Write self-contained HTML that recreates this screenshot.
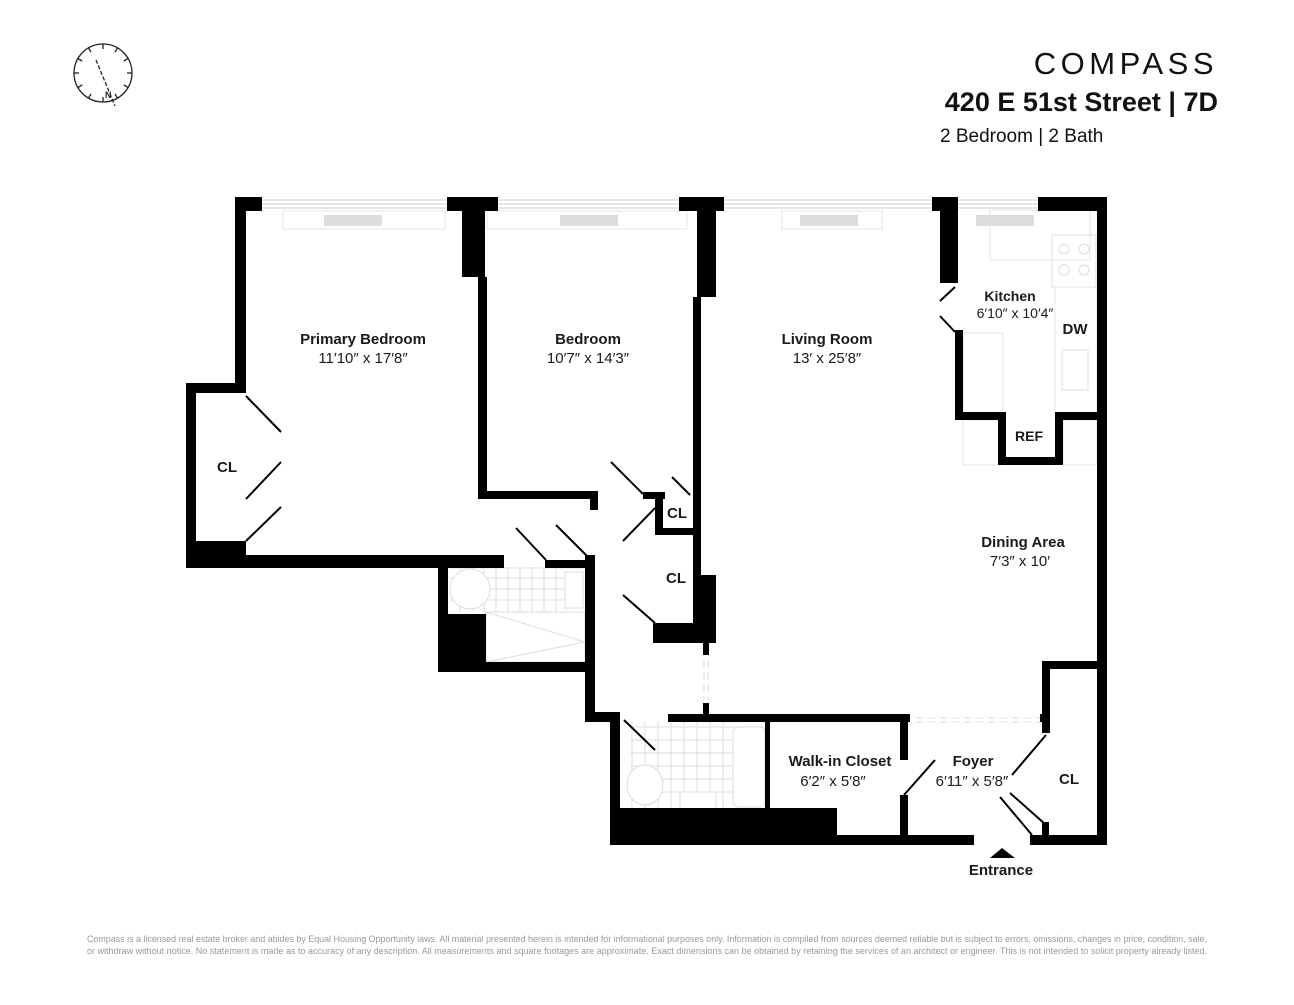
<!DOCTYPE html>
<html><head><meta charset="utf-8"><style>
html,body{margin:0;padding:0;background:#fff;}
body{width:1294px;height:1000px;overflow:hidden;font-family:"Liberation Sans",sans-serif;}
svg text{font-family:"Liberation Sans",sans-serif;}
</style></head><body>
<svg width="1294" height="1000" viewBox="0 0 1294 1000" xmlns="http://www.w3.org/2000/svg">
<g stroke="#222" stroke-width="1.3" fill="none">
<circle cx="103" cy="73" r="29"/>
<g id="t">
<line x1="103" y1="44" x2="103" y2="49"/>
</g>
<use href="#t" transform="rotate(30 103 73)"/><use href="#t" transform="rotate(60 103 73)"/><use href="#t" transform="rotate(90 103 73)"/><use href="#t" transform="rotate(120 103 73)"/><use href="#t" transform="rotate(150 103 73)"/><use href="#t" transform="rotate(180 103 73)"/><use href="#t" transform="rotate(210 103 73)"/><use href="#t" transform="rotate(240 103 73)"/><use href="#t" transform="rotate(270 103 73)"/><use href="#t" transform="rotate(300 103 73)"/><use href="#t" transform="rotate(330 103 73)"/>
<line x1="96" y1="60" x2="115" y2="106" stroke-dasharray="4 2"/>
</g>
<text x="105" y="98" font-size="9" font-weight="bold" fill="#222">N</text>

<text x="1218" y="74" font-size="31" text-anchor="end" letter-spacing="4.5" fill="#111">COMPASS</text>
<text x="1218" y="111" font-size="27" font-weight="bold" text-anchor="end" fill="#111">420 E 51st Street | 7D</text>
<text x="940" y="142" font-size="19" fill="#111">2 Bedroom | 2 Bath</text>

<g stroke="#ccc" stroke-width="1" fill="none">
<line x1="262" y1="200" x2="447" y2="200"/><line x1="262" y1="204" x2="447" y2="204"/><line x1="262" y1="208" x2="447" y2="208"/>
<line x1="498" y1="200" x2="679" y2="200"/><line x1="498" y1="204" x2="679" y2="204"/><line x1="498" y1="208" x2="679" y2="208"/>
<line x1="724" y1="200" x2="932" y2="200"/><line x1="724" y1="204" x2="932" y2="204"/><line x1="724" y1="208" x2="932" y2="208"/>
<line x1="958" y1="200" x2="1038" y2="200"/><line x1="958" y1="204" x2="1038" y2="204"/><line x1="958" y1="208" x2="1038" y2="208"/>
<rect x="283" y="211" width="162" height="18" stroke="#e6e6e6"/>
<rect x="487" y="211" width="200" height="18" stroke="#e6e6e6"/>
<rect x="782" y="211" width="100" height="18" stroke="#e6e6e6"/>
<rect x="990" y="210" width="100" height="50" stroke="#e6e6e6"/>
<rect x="1052" y="235" width="44" height="52" stroke="#ddd"/>
<circle cx="1064" cy="249" r="5" stroke="#ddd"/><circle cx="1084" cy="249" r="5" stroke="#ddd"/>
<circle cx="1064" cy="270" r="5" stroke="#ddd"/><circle cx="1084" cy="270" r="5" stroke="#ddd"/>
<rect x="1055" y="287" width="42" height="130" stroke="#e6e6e6"/>
<rect x="1062" y="350" width="26" height="40" stroke="#ddd"/>
<rect x="963" y="333" width="40" height="80" stroke="#e6e6e6"/>
<rect x="963" y="420" width="38" height="45" stroke="#e6e6e6"/>
<rect x="1063" y="420" width="34" height="45" stroke="#e6e6e6"/>
</g>
<g fill="#ddd">
<rect x="324" y="215" width="58" height="11"/>
<rect x="560" y="215" width="58" height="11"/>
<rect x="800" y="215" width="58" height="11"/>
<rect x="976" y="215" width="58" height="11"/>
</g>

<g stroke="#ddd" stroke-width="1" fill="none">
<path d="M450 568 H585 M450 578 H585 M450 589 H585 M450 600 H585"/>
<path d="M460 567 V612 M472 567 V612 M484 567 V612 M496 567 V612 M508 567 V612 M520 567 V612 M532 567 V612 M544 567 V612 M556 567 V612"/>
<ellipse cx="470" cy="589" rx="20" ry="20" fill="#fff"/>
<rect x="565" y="572" width="18" height="36" fill="#fff"/>
<rect x="486" y="612" width="99" height="50"/>
<path d="M486 612 L585 642 M486 662 L585 642"/>
<path d="M630 727 H765 M630 740 H765 M630 753 H765 M630 766 H765 M630 779 H765 M630 792 H765"/>
<path d="M632 722 V808 M645 722 V808 M658 722 V808 M671 722 V808 M684 722 V808 M697 722 V808 M710 722 V808 M723 722 V808"/>
<ellipse cx="645" cy="785" rx="18" ry="20" fill="#fff"/>
<rect x="680" y="792" width="36" height="18" fill="#fff"/>
<rect x="733" y="727" width="32" height="80" rx="6" fill="#fff"/>
<path d="M915 718 H1040 M915 722 H1040" stroke-dasharray="8 4"/>
<path d="M704 660 V700 M708 660 V700" stroke-dasharray="8 4"/>
</g>

<g fill="#000">
<rect x="235" y="197" width="27" height="14"/>
<rect x="235" y="197" width="11" height="196"/>
<rect x="447" y="197" width="51" height="14"/>
<rect x="462" y="197" width="23" height="80"/>
<rect x="679" y="197" width="45" height="14"/>
<rect x="697" y="197" width="19" height="100"/>
<rect x="932" y="197" width="26" height="14"/>
<rect x="940" y="197" width="18" height="86"/>
<rect x="1038" y="197" width="69" height="14"/>
<rect x="1097" y="197" width="10" height="648"/>
<rect x="186" y="383" width="60" height="10"/>
<rect x="186" y="383" width="10" height="185"/>
<rect x="186" y="541" width="60" height="27"/>
<rect x="186" y="555" width="318" height="13"/>
<rect x="478" y="277" width="9" height="222"/>
<rect x="478" y="491" width="120" height="8"/>
<rect x="590" y="491" width="8" height="19"/>
<rect x="430" y="560" width="73" height="8"/>
<rect x="545" y="560" width="50" height="8"/>
<rect x="438" y="560" width="10" height="112"/>
<rect x="438" y="614" width="48" height="58"/>
<rect x="438" y="662" width="157" height="10"/>
<rect x="585" y="555" width="10" height="165"/>
<rect x="585" y="712" width="35" height="10"/>
<rect x="643" y="492" width="22" height="7"/>
<rect x="655" y="492" width="8" height="43"/>
<rect x="655" y="528" width="45" height="7"/>
<rect x="693" y="297" width="8" height="330"/>
<rect x="697" y="575" width="19" height="50"/>
<rect x="653" y="623" width="63" height="20"/>
<rect x="703" y="643" width="6" height="12"/>
<rect x="703" y="703" width="6" height="15"/>
<rect x="668" y="714" width="242" height="8"/>
<rect x="1040" y="714" width="10" height="8"/>
<rect x="610" y="714" width="10" height="131"/>
<rect x="610" y="808" width="227" height="37"/>
<rect x="610" y="835" width="364" height="10"/>
<rect x="765" y="720" width="5" height="90"/>
<rect x="900" y="720" width="8" height="40"/>
<rect x="900" y="795" width="8" height="45"/>
<rect x="1042" y="661" width="8" height="72"/>
<rect x="1042" y="661" width="65" height="8"/>
<rect x="1030" y="835" width="77" height="10"/>
<rect x="1042" y="822" width="7" height="15"/>
<rect x="955" y="330" width="8" height="90"/>
<rect x="955" y="412" width="50" height="8"/>
<rect x="998" y="412" width="8" height="53"/>
<rect x="998" y="457" width="65" height="8"/>
<rect x="1055" y="412" width="8" height="53"/>
<rect x="1055" y="412" width="52" height="8"/>
<polygon points="990,858 1002,848 1015,858"/>
</g>

<g stroke="#000" stroke-width="2" fill="none">
<line x1="246" y1="396" x2="281" y2="432"/>
<line x1="246" y1="499" x2="281" y2="462"/>
<line x1="246" y1="541" x2="281" y2="507"/>
<line x1="611" y1="462" x2="643" y2="494"/>
<line x1="672" y1="477" x2="690" y2="495"/>
<line x1="516" y1="528" x2="546" y2="560"/>
<line x1="556" y1="525" x2="588" y2="557"/>
<line x1="623" y1="541" x2="655" y2="508"/>
<line x1="623" y1="595" x2="655" y2="623"/>
<line x1="940" y1="301" x2="955" y2="287"/>
<line x1="940" y1="316" x2="955" y2="332"/>
<line x1="624" y1="720" x2="655" y2="750"/>
<line x1="904" y1="795" x2="935" y2="760"/>
<line x1="1046" y1="735" x2="1012" y2="775"/>
<line x1="1000" y1="797" x2="1032" y2="835"/>
<line x1="1010" y1="793" x2="1045" y2="824"/>
</g>

<g font-size="15" text-anchor="middle" fill="#1a1a1a">
<text x="363" y="344" font-weight="bold">Primary Bedroom</text><text x="363" y="363">11′10″ x 17′8″</text>
<text x="588" y="344" font-weight="bold">Bedroom</text><text x="588" y="363">10′7″ x 14′3″</text>
<text x="827" y="344" font-weight="bold">Living Room</text><text x="827" y="363">13′ x 25′8″</text>
<text x="1010" y="301" font-weight="bold" font-size="14">Kitchen</text><text x="1015" y="318" font-size="14">6′10″ x 10′4″</text>
<text x="1075" y="334" font-weight="bold">DW</text>
<text x="1029" y="441" font-weight="bold" font-size="14">REF</text>
<text x="1023" y="547" font-weight="bold">Dining Area</text><text x="1020" y="566">7′3″ x 10′</text>
<text x="227" y="472" font-weight="bold">CL</text>
<text x="677" y="518" font-weight="bold">CL</text>
<text x="676" y="583" font-weight="bold">CL</text>
<text x="1069" y="784" font-weight="bold">CL</text>
<text x="840" y="766" font-weight="bold">Walk-in Closet</text><text x="833" y="786">6′2″ x 5′8″</text>
<text x="973" y="766" font-weight="bold">Foyer</text><text x="972" y="786">6′11″ x 5′8″</text>
<text x="1001" y="875" font-weight="bold">Entrance</text>
</g>

<g font-size="8.9" fill="#999" text-anchor="middle">
<text x="647" y="942" textLength="1120" lengthAdjust="spacingAndGlyphs">Compass is a licensed real estate broker and abides by Equal Housing Opportunity laws. All material presented herein is intended for informational purposes only. Information is compiled from sources deemed reliable but is subject to errors, omissions, changes in price, condition, sale,</text>
<text x="647" y="954" textLength="1120" lengthAdjust="spacingAndGlyphs">or withdraw without notice. No statement is made as to accuracy of any description. All measurements and square footages are approximate. Exact dimensions can be obtained by retaining the services of an architect or engineer. This is not intended to solicit property already listed.</text>
</g>
</svg>
</body></html>
